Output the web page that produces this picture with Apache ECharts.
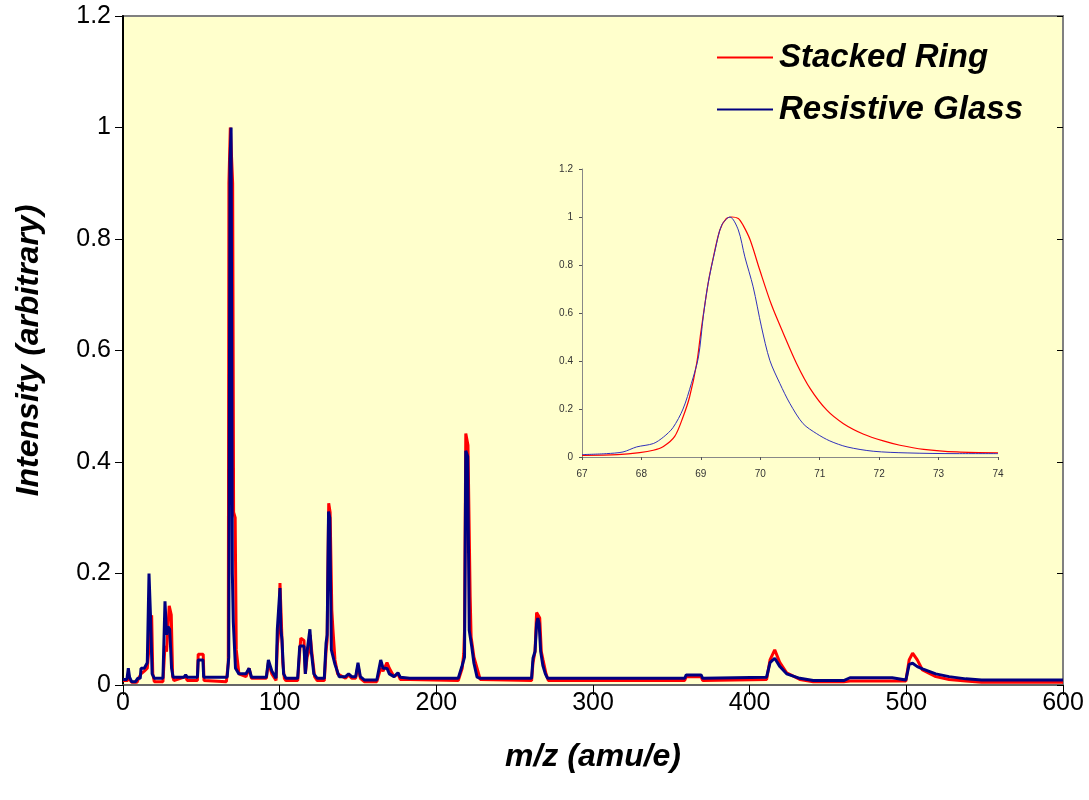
<!DOCTYPE html>
<html>
<head>
<meta charset="utf-8">
<script src="https://cdn.jsdelivr.net/npm/echarts@6/dist/echarts.min.js"></script>
<style>html,body{margin:0;padding:0;background:#fff}#c{width:1089px;height:800px}</style>
</head>
<body>
<div id="c"></div>
<script>
// ---- Data ----
const seriesNames = ['Stacked Ring', 'Resistive Glass'];
const mainXTicks = [0, 100, 200, 300, 400, 500, 600];
const mainYTicks = [0, 0.2, 0.4, 0.6, 0.8, 1, 1.2];
const insetXTicks = [67, 68, 69, 70, 71, 72, 73, 74];

// Main spectrum, Stacked Ring [m/z, intensity]
const stackedRing = [[0,0.008],[3,0.008],[3.4,0.02],[4.2,0.01],[5.5,0.005],[9,0.005],[10,0.012],[11.5,0.02],[13.6,0.025],[15.5,0.03],[16.4,0.06],[17.2,0.11],[18.3,0.125],[19,0.02],[20,0.006],[25.5,0.006],[26.8,0.07],[27.8,0.06],[29.5,0.142],[30.8,0.126],[31.7,0.015],[32.5,0.008],[40,0.015],[41,0.008],[47.5,0.008],[48,0.055],[51.2,0.055],[51.7,0.008],[66,0.006],[67.2,0.04],[67.6,0.9],[68.5,1.0],[69.5,1.0],[70,0.9],[70.6,0.31],[71.6,0.3],[72.3,0.063],[73,0.06],[74,0.02],[78.5,0.015],[80.5,0.03],[82,0.012],[91.5,0.012],[92.8,0.04],[95,0.02],[97.7,0.008],[98.5,0.07],[99.5,0.1],[100.2,0.183],[101,0.12],[102,0.04],[103,0.012],[104,0.008],[111.5,0.008],[112.8,0.06],[113.5,0.084],[115.5,0.08],[116.4,0.02],[117.5,0.05],[118.6,0.06],[119.5,0.09],[120.5,0.06],[122.3,0.015],[124,0.008],[128.5,0.008],[129.6,0.06],[130.3,0.08],[131.3,0.326],[132.2,0.31],[133.3,0.134],[134,0.1],[135.3,0.045],[137,0.02],[142,0.012],[144,0.018],[146,0.012],[148.5,0.012],[150,0.035],[151.5,0.012],[154,0.006],[162,0.006],[164.5,0.03],[166,0.025],[168.5,0.04],[170,0.03],[173,0.015],[175.5,0.02],[177,0.01],[183,0.01],[214,0.008],[216.5,0.03],[217.5,0.056],[218,0.098],[218.8,0.451],[220.2,0.43],[221.6,0.158],[222.2,0.086],[224,0.05],[226,0.03],[228,0.01],[260.8,0.008],[261.7,0.04],[263,0.06],[264,0.13],[265,0.133],[266,0.12],[267,0.06],[268.1,0.045],[270,0.02],[271.5,0.008],[358.5,0.008],[359.5,0.015],[369,0.015],[370,0.008],[410.8,0.01],[413,0.045],[416,0.063],[419.3,0.04],[423.6,0.022],[432,0.01],[440.6,0.006],[460,0.006],[464,0.007],[491,0.007],[499.7,0.007],[501.8,0.045],[504,0.057],[507,0.045],[510.3,0.027],[518.8,0.015],[527.3,0.01],[538,0.007],[548,0.005],[600,0.005]];

// Main spectrum, Resistive Glass [m/z, intensity]
const resistiveGlass = [[0,0.01],[2.5,0.01],[3.4,0.03],[4.2,0.014],[5.5,0.006],[8,0.006],[9.4,0.012],[11,0.012],[11.5,0.03],[13.6,0.03],[15.5,0.04],[16.6,0.2],[17.6,0.12],[18.6,0.02],[20,0.012],[25.5,0.012],[26.8,0.15],[27.8,0.09],[28.7,0.105],[29.8,0.1],[31,0.03],[32,0.014],[39,0.014],[40,0.018],[41,0.014],[47.5,0.014],[48,0.045],[51,0.045],[51.5,0.014],[66.5,0.014],[67.5,0.05],[68.3,0.94],[69,1.0],[69.8,0.2],[70.4,0.113],[71.2,0.11],[71.8,0.03],[74,0.02],[78.5,0.02],[80.5,0.03],[82,0.014],[91.5,0.014],[92.8,0.045],[95,0.025],[97.7,0.012],[98.5,0.1],[99.5,0.1],[100.2,0.174],[100.8,0.1],[101.5,0.08],[102.5,0.02],[104,0.012],[111.5,0.012],[112.8,0.07],[115.5,0.07],[116.4,0.02],[117.5,0.06],[118.6,0.06],[119.3,0.1],[120.2,0.06],[121.8,0.02],[124,0.012],[128.5,0.012],[129.6,0.075],[130.3,0.09],[131.2,0.311],[132,0.3],[133,0.063],[135.3,0.037],[138,0.015],[142,0.015],[144,0.02],[146,0.015],[148.5,0.015],[150,0.04],[151.5,0.015],[154,0.009],[162,0.009],[164.5,0.045],[166,0.03],[168.5,0.03],[170,0.02],[173,0.015],[175.5,0.022],[177,0.014],[183,0.012],[214,0.012],[216.5,0.035],[218,0.05],[218.8,0.42],[220,0.41],[221,0.098],[222.6,0.069],[224,0.039],[226,0.014],[228,0.012],[260.8,0.012],[261.7,0.048],[263,0.06],[264,0.11],[264.8,0.12],[265.6,0.11],[266.6,0.06],[268,0.035],[269.6,0.02],[271,0.012],[358.5,0.012],[359.5,0.018],[369,0.018],[370,0.012],[410.8,0.014],[413,0.04],[416,0.048],[419.3,0.033],[423.6,0.02],[432,0.012],[440.6,0.008],[460,0.008],[464,0.013],[491,0.013],[499.7,0.009],[501.8,0.037],[504,0.039],[507,0.033],[510.3,0.029],[518.8,0.02],[527.3,0.015],[538,0.011],[548,0.009],[600,0.009]];

// Inset (m/z 67-74)
const insetStackedRing = [[67,0.007],[67.6,0.01],[67.97,0.018],[68.2,0.028],[68.37,0.044],[68.56,0.086],[68.7,0.167],[68.81,0.25],[68.93,0.39],[69.0,0.52],[69.12,0.72],[69.2,0.82],[69.32,0.946],[69.43,0.994],[69.52,1.0],[69.63,0.994],[69.71,0.966],[69.83,0.904],[69.99,0.78],[70.19,0.633],[70.39,0.514],[70.61,0.39],[70.84,0.285],[71.12,0.195],[71.4,0.139],[71.74,0.095],[72.07,0.067],[72.35,0.049],[72.75,0.032],[73.31,0.021],[74,0.017]];
const insetResistiveGlass = [[67,0.01],[67.41,0.014],[67.69,0.021],[67.92,0.042],[68.2,0.056],[68.37,0.083],[68.53,0.122],[68.7,0.2],[68.84,0.306],[68.96,0.417],[69.04,0.584],[69.12,0.72],[69.24,0.862],[69.35,0.966],[69.49,1.0],[69.63,0.946],[69.74,0.834],[69.88,0.709],[70.02,0.542],[70.16,0.403],[70.33,0.306],[70.5,0.222],[70.72,0.139],[70.95,0.097],[71.17,0.067],[71.46,0.042],[71.9,0.024],[72.47,0.017],[73.31,0.014],[74,0.014]];

// ---- Chart ----
const FONT = 'Liberation Sans, Arial, sans-serif';
const RED = '#FF0000', BLUE = '#000080', INSET_BLUE = '#3030bb';
const chart = echarts.init(document.getElementById('c'), null, {renderer: 'canvas'});

chart.setOption({
  animation: false,
  backgroundColor: '#ffffff',
  textStyle: {fontFamily: FONT},
  legend: {
    data: seriesNames,
    orient: 'vertical',
    left: 712, top: 36,
    itemWidth: 56, itemHeight: 2, itemGap: 19,
    icon: 'rect',
    selectedMode: false,
    textStyle: {fontSize: 33, fontWeight: 'bold', fontStyle: 'italic', color: '#000', fontFamily: FONT, padding: [0,0,0,1]}
  },
  grid: [
    {left: 123, right: 26, top: 16, bottom: 115, show: true, backgroundColor: '#FFFFCC', borderColor: '#808080', borderWidth: 2},
    {left: 582, right: 91, top: 169, bottom: 343, show: false}
  ],
  xAxis: [
    {gridIndex: 0, type: 'value', min: mainXTicks[0], max: mainXTicks[mainXTicks.length-1], interval: 100,
     name: 'm/z (amu/e)', nameLocation: 'middle', nameGap: 56,
     nameTextStyle: {fontSize: 32, fontWeight: 'bold', fontStyle: 'italic', color: '#000', fontFamily: FONT},
     axisLine: {lineStyle: {color: '#666', width: 2}},
     axisTick: {length: 10, lineStyle: {color: '#000', width: 1}},
     axisLabel: {fontSize: 25, color: '#000', margin: 6, fontFamily: FONT},
     splitLine: {show: false}},
    {gridIndex: 1, type: 'value', min: insetXTicks[0], max: insetXTicks[insetXTicks.length-1], interval: 1,
     axisLine: {lineStyle: {color: '#888', width: 1}},
     axisTick: {length: 3, lineStyle: {color: '#555'}},
     axisLabel: {fontSize: 10, color: '#333', margin: 12, fontFamily: FONT},
     splitLine: {show: false}}
  ],
  yAxis: [
    {gridIndex: 0, type: 'value', min: mainYTicks[0], max: mainYTicks[mainYTicks.length-1], interval: 0.2,
     name: 'Intensity (arbitrary)', nameLocation: 'middle', nameGap: 78,
     nameTextStyle: {fontSize: 32, fontWeight: 'bold', fontStyle: 'italic', color: '#000', fontFamily: FONT},
     axisLine: {show: true, lineStyle: {color: '#000', width: 2}},
     axisTick: {length: 8, lineStyle: {color: '#000', width: 1}},
     axisLabel: {fontSize: 25, color: '#000', margin: 12, fontFamily: FONT},
     splitLine: {show: false}},
    {gridIndex: 0, type: 'value', min: 0, max: 1.2, interval: 0.2,
     axisLine: {show: false},
     axisTick: {show: true, inside: true, length: 6, lineStyle: {color: '#000', width: 1}},
     axisLabel: {show: false}, splitLine: {show: false}},
    {gridIndex: 1, type: 'value', min: 0, max: 1.2, interval: 0.2,
     axisLine: {show: true, lineStyle: {color: '#888', width: 1}},
     axisTick: {show: true, length: 3, lineStyle: {color: '#555'}},
     axisLabel: {fontSize: 10, color: '#333', margin: 9, fontFamily: FONT},
     splitLine: {show: false}}
  ],
  series: [
    {name: seriesNames[0], type: 'line', xAxisIndex: 0, yAxisIndex: 0, data: stackedRing,
     showSymbol: false, symbol: 'none', lineStyle: {color: RED, width: 3}, itemStyle: {color: RED}, z: 2},
    {name: seriesNames[1], type: 'line', xAxisIndex: 0, yAxisIndex: 0, data: resistiveGlass,
     showSymbol: false, symbol: 'none', lineStyle: {color: BLUE, width: 3}, itemStyle: {color: BLUE}, z: 3},
    {name: seriesNames[0], type: 'line', xAxisIndex: 1, yAxisIndex: 2, data: insetStackedRing, smooth: 0.3,
     showSymbol: false, symbol: 'none', lineStyle: {color: RED, width: 1.2}, itemStyle: {color: RED}, z: 4},
    {name: seriesNames[1], type: 'line', xAxisIndex: 1, yAxisIndex: 2, data: insetResistiveGlass, smooth: 0.3,
     showSymbol: false, symbol: 'none', lineStyle: {color: INSET_BLUE, width: 1}, itemStyle: {color: INSET_BLUE}, z: 4}
  ]
});
</script>
</body>
</html>
